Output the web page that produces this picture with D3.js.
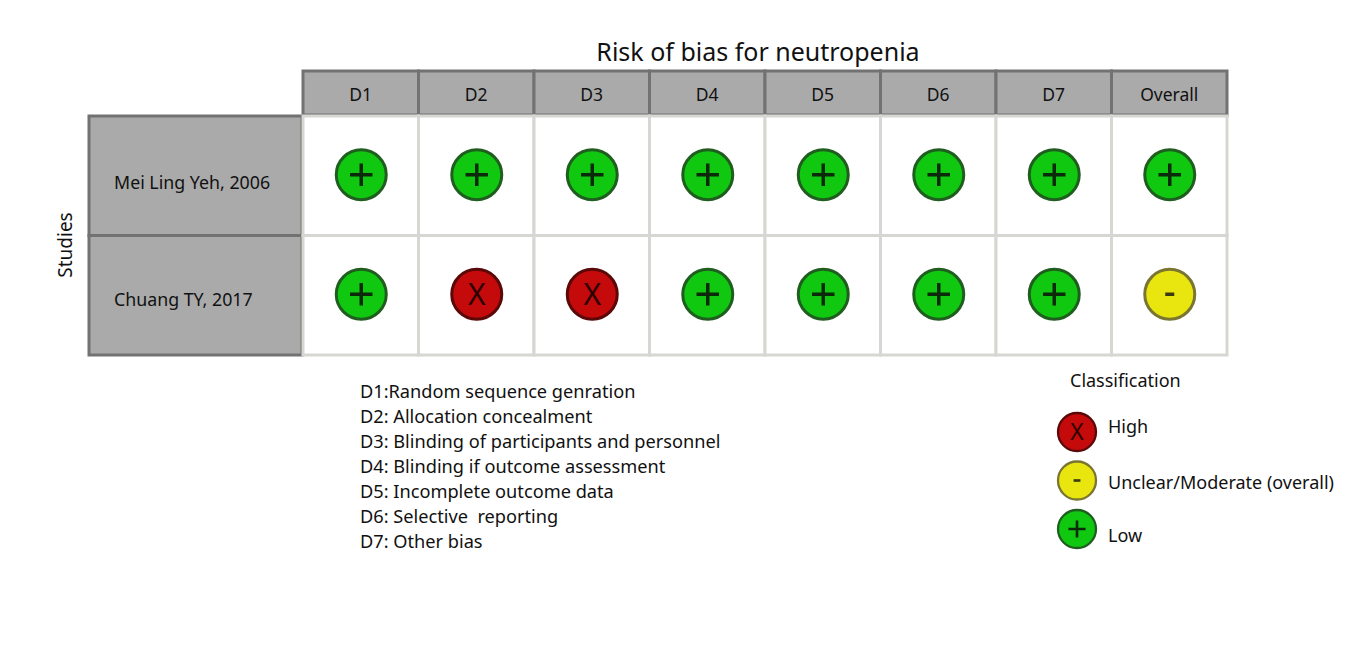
<!DOCTYPE html>
<html>
  <head>
    <title>Risk of bias for neutropenia</title>
    <style>
      body { margin: 0; background: #fff; }
      text { font-family: "Noto Sans", sans-serif; fill: #111; white-space: pre; }
    </style>
  </head>
  <body>
    <script src="https://d3js.org/d3.v7.min.js"></script>
    <script>
      const domains = ["D1", "D2", "D3", "D4", "D5", "D6", "D7", "Overall"];
      const studies = ["Mei Ling Yeh, 2006", "Chuang TY, 2017"];
      const judgements = [
        ["+", "+", "+", "+", "+", "+", "+", "+"],
        ["+", "X", "X", "+", "+", "+", "+", "-"]
      ];
      const domainNotes = [
        "D1:Random sequence genration",
        "D2: Allocation concealment",
        "D3: Blinding of participants and personnel",
        "D4: Blinding if outcome assessment",
        "D5: Incomplete outcome data",
        "D6: Selective  reporting",
        "D7: Other bias"
      ];
      const classes = ["High", "Unclear/Moderate (overall)", "Low"];
      const classSymbols = ["X", "-", "+"];

      const fills = { "+": "#10c810", "X": "#c40a0a", "-": "#e8e60e" };
      const rims = { "+": "#1f5e1f", "X": "#5a0808", "-": "#7a7530" };

      const width = 1349, height = 645;
      const svg = d3.select("body").append("svg")
        .attr("width", width)
        .attr("height", height);

      const x = d3.scaleBand().domain(domains).range([303, 1227]);
      const y = d3.scaleBand().domain(studies).range([116, 355]);

      // title
      svg.append("text")
        .attr("x", 758).attr("y", 61)
        .attr("text-anchor", "middle")
        .style("font-size", "25px")
        .text("Risk of bias for neutropenia");

      // header cells
      const head = svg.append("g");
      head.selectAll("rect")
        .data(domains)
        .enter()
        .append("rect")
        .attr("x", (d) => x(d))
        .attr("y", 71)
        .attr("width", x.bandwidth())
        .attr("height", 44)
        .attr("fill", "#aaaaaa")
        .attr("stroke", "#727272")
        .attr("stroke-width", 3);
      head.selectAll("text")
        .data(domains)
        .enter()
        .append("text")
        .attr("x", (d) => x(d) + x.bandwidth() / 2)
        .attr("y", 101)
        .attr("text-anchor", "middle")
        .style("font-size", "17.5px")
        .text((d) => d);

      // row label cells
      const rows = svg.append("g");
      rows.selectAll("rect")
        .data(studies)
        .enter()
        .append("rect")
        .attr("x", 89)
        .attr("y", (d) => y(d))
        .attr("width", 213)
        .attr("height", y.bandwidth())
        .attr("fill", "#aaaaaa")
        .attr("stroke", "#727272")
        .attr("stroke-width", 3);
      rows.selectAll("text")
        .data(studies)
        .enter()
        .append("text")
        .attr("x", 114)
        .attr("y", (d, i) => y(d) + y.bandwidth() / 2 + 13 - i * 2)
        .style("font-size", "17.8px")
        .text((d) => d);

      svg.append("text")
        .attr("transform", "translate(72,245) rotate(-90)")
        .attr("text-anchor", "middle")
        .style("font-size", "19px")
        .text("Studies");

      // body cells
      const cells = [];
      judgements.forEach((row, i) => {
        row.forEach((v, j) => {
          cells.push({ study: studies[i], domain: domains[j], value: v });
        });
      });

      const body = svg.append("g");
      body.selectAll("rect")
        .data(cells)
        .enter()
        .append("rect")
        .attr("x", (d) => x(d.domain))
        .attr("y", (d) => y(d.study))
        .attr("width", x.bandwidth())
        .attr("height", y.bandwidth())
        .attr("fill", "#fff")
        .attr("stroke", "#d6d6d2")
        .attr("stroke-width", 3);

      const drawSymbol = (g, v, r) => {
        g.append("circle")
          .attr("r", r)
          .attr("fill", fills[v])
          .attr("stroke", rims[v])
          .attr("stroke-width", r * 0.12);
        const s = r * 0.45;
        if (v === "+") {
          g.append("path")
            .attr("d", `M${-s},0H${s}M0,${-s}V${s}`)
            .attr("stroke", "#0a2a0a")
            .attr("stroke-width", r * 0.14);
        } else if (v === "X") {
          g.append("text")
            .attr("text-anchor", "middle")
            .attr("y", r * 0.42)
            .style("font-size", r * 1.2 + "px")
            .style("fill", "#2a0000")
            .text("X");
        } else {
          g.append("path")
            .attr("d", `M${-s * 0.4},0H${s * 0.4}`)
            .attr("stroke", "#3a3a10")
            .attr("stroke-width", r * 0.14);
        }
      };

      body.selectAll("g")
        .data(cells)
        .enter()
        .append("g")
        .attr("transform", (d) =>
          `translate(${x(d.domain) + x.bandwidth() / 2 + 0.5},${y(d.study) + y.bandwidth() / 2 - 1})`)
        .each(function (d) {
          drawSymbol(d3.select(this), d.value, 25);
        });

      // domain notes
      svg.append("g").selectAll("text")
        .data(domainNotes)
        .enter()
        .append("text")
        .attr("x", 360)
        .attr("y", (d, i) => 398 + i * 25)
        .style("font-size", "18.2px")
        .text((d) => d);

      // classification legend
      svg.append("text")
        .attr("x", 1070).attr("y", 387)
        .style("font-size", "18px")
        .text("Classification");

      const leg = svg.append("g").selectAll("g")
        .data(classes)
        .enter()
        .append("g")
        .attr("transform", (d, i) => `translate(1077,${432 + i * 48.5})`);
      leg.each(function (d, i) {
        drawSymbol(d3.select(this), classSymbols[i], 19);
      });
      leg.append("text")
        .attr("x", 31)
        .attr("y", (d, i) => [1, 8, 13][i])
        .style("font-size", "18px")
        .text((d) => d);
    </script>
  </body>
</html>
